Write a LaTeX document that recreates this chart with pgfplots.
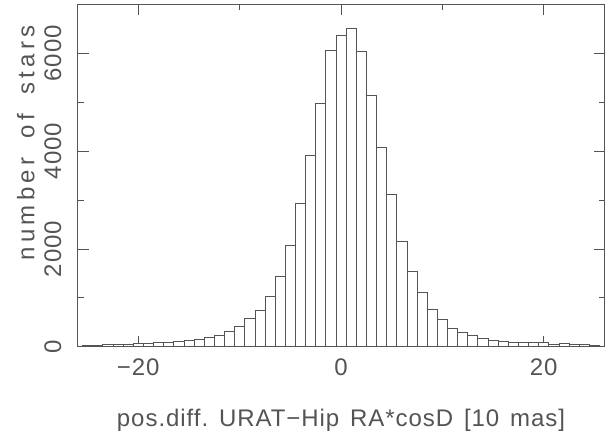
\documentclass[border=0pt]{standalone}
\usepackage{pgfplots}
\pgfplotsset{compat=1.18}
\usepackage{fontspec}
\setmainfont{Liberation Sans}[LetterSpace=4.0]
\definecolor{ink}{gray}{0.33}
\begin{document}
\begin{tikzpicture}
\begin{axis}[
  scale only axis,
  width=527pt, height=342.4pt,
  xmin=-26, xmax=26, ymin=0, ymax=7000,
  axis line style={draw=ink, line width=0.7pt},
  every tick/.style={draw=ink, line width=0.7pt},
  tick pos=both,
  xtick={-20,0,20}, xticklabels={−20,0,20},
  minor xtick={-10,10},
  ytick={0,2000,4000,6000}, yticklabels={0,2000,4000,6000},
  minor ytick={1000,3000,5000},
  major tick length=11pt, minor tick length=6pt,
  ticklabel style={font=\fontsize{24}{28}\selectfont, text=ink, inner sep=0pt},
  xticklabel shift=12pt,
  yticklabel style={rotate=90, anchor=south},
  yticklabel shift=16pt,
  xlabel={pos.diff.\hspace{0.45em}URAT−Hip\hspace{0.45em}RA*cosD\hspace{0.45em}[10\hspace{0.45em}mas]},
  ylabel={\addfontfeatures{LetterSpace=18}number\hspace{0.8em}of\hspace{0.8em}stars},
  label style={font=\fontsize{24}{28}\selectfont, text=ink, inner sep=0pt},
  xlabel style={at={(axis description cs:0.5,-0.2336)}, anchor=base},
  ylabel style={at={(axis description cs:-0.0816,0.595)}, anchor=base, rotate=0},
]
\addplot[ybar interval, fill=white, draw=ink, line width=0.7pt] coordinates {
(-25.5,27) (-24.5,34) (-23.5,41) (-22.5,48) (-21.5,54) (-20.5,61) (-19.5,68)
(-18.5,82) (-17.5,88) (-16.5,102) (-15.5,129) (-14.5,150) (-13.5,197)
(-12.5,238) (-11.5,313) (-10.5,415) (-9.5,578) (-8.5,741) (-7.5,1027)
(-6.5,1429) (-5.5,2066) (-4.5,2939) (-3.5,3914) (-2.5,4977) (-1.5,6068)
(-0.5,6375) (0.5,6518) (1.5,6034) (2.5,5134) (3.5,4077) (4.5,3109)
(5.5,2148) (6.5,1534) (7.5,1118) (8.5,764) (9.5,559) (10.5,375)
(11.5,293) (12.5,225) (13.5,177) (14.5,130) (15.5,109) (16.5,95)
(17.5,95) (18.5,89) (19.5,89) (20.5,55) (21.5,61) (22.5,48) (23.5,48)
(24.5,34) (25.5,34)
};
\end{axis}
\pgfresetboundingbox
\path[use as bounding box] (-77.5pt,-89.3pt) rectangle (527.5pt,346.7pt);
\end{tikzpicture}
\end{document}
